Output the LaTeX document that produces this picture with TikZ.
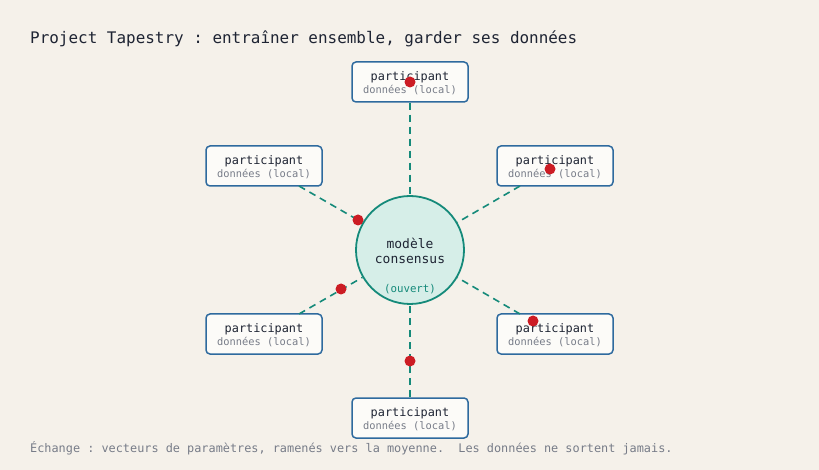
\documentclass[tikz,border=0pt]{standalone}
\usepackage{fontspec}
\setmonofont{DejaVu Sans Mono}
\begin{document}
\begin{tikzpicture}[x=1bp,y=-1bp,font=\ttfamily,
  part/.style={draw=boxb,line width=1.5bp,fill=boxf,rounded corners=4bp,minimum width=116bp,minimum height=40bp,inner sep=0pt},
  link/.style={draw=teal2,line width=1.6bp,dash pattern=on 7bp off 5bp},
  dot/.style={circle,fill=dred,inner sep=0pt,minimum size=11bp}]
\definecolor{bg}{HTML}{F5F1EA}\definecolor{boxb}{HTML}{2E6A9E}\definecolor{boxf}{HTML}{FCFBF8}
\definecolor{teal2}{HTML}{158A7A}\definecolor{cfill}{HTML}{D6EEE8}\definecolor{dred}{HTML}{CC1C24}
\definecolor{ink}{HTML}{1E2433}\definecolor{gr}{HTML}{777C88}
\fill[bg] (0,0) rectangle (819,470);
\useasboundingbox (0,0) rectangle (819,470);
\node[anchor=west,text=ink,font=\ttfamily\fontsize{16}{18}\selectfont,inner sep=0pt] (title) at (30,39) {Project Tapestry : entraîner ensemble, garder ses données};
\node[anchor=west,text=gr,font=\ttfamily\fontsize{11.9}{13}\selectfont,inner sep=0pt] (foot) at (30,448) {Échange : vecteurs de paramètres, ramenés vers la moyenne.~~Les données ne sortent jamais.};
\node[circle,draw=teal2,line width=1.8bp,fill=cfill,minimum size=108bp,inner sep=0pt] (c) at (410,250) {};
\node[text=ink,align=center,font=\ttfamily\fontsize{13}{14.5}\selectfont] (cl) at (410,251) {modèle\\consensus};
\node[text=teal2,font=\ttfamily\fontsize{10.8}{12}\selectfont] (co) at (410,289) {(ouvert)};
\foreach \n/\x/\y in {p1/410/82,p2/264/166,p3/555/166,p4/264/334,p5/555/334,p6/410/418}{
  \node[part] (\n) at (\x,\y) {};
  \node[text=ink,font=\ttfamily\fontsize{11.9}{13}\selectfont] (\n a) at (\x,\y-5) {participant};
  \node[text=gr,font=\ttfamily\fontsize{10.4}{12}\selectfont] (\n b) at (\x,\y+8.5) {données (local)};
}
\draw[link] (p1.south) -- (c);
\draw[link] (299,186) -- (c);
\draw[link] (520,186) -- (c);
\draw[link] (299,314) -- (c);
\draw[link] (520,314) -- (c);
\draw[link] (p6.north) -- (c);
\foreach \n/\x/\y in {d1/410/82,d2/550/169,d3/358/220,d4/341/289,d5/533/321,d6/410/361}
  \node[dot] (\n) at (\x,\y) {};
\end{tikzpicture}
\end{document}
